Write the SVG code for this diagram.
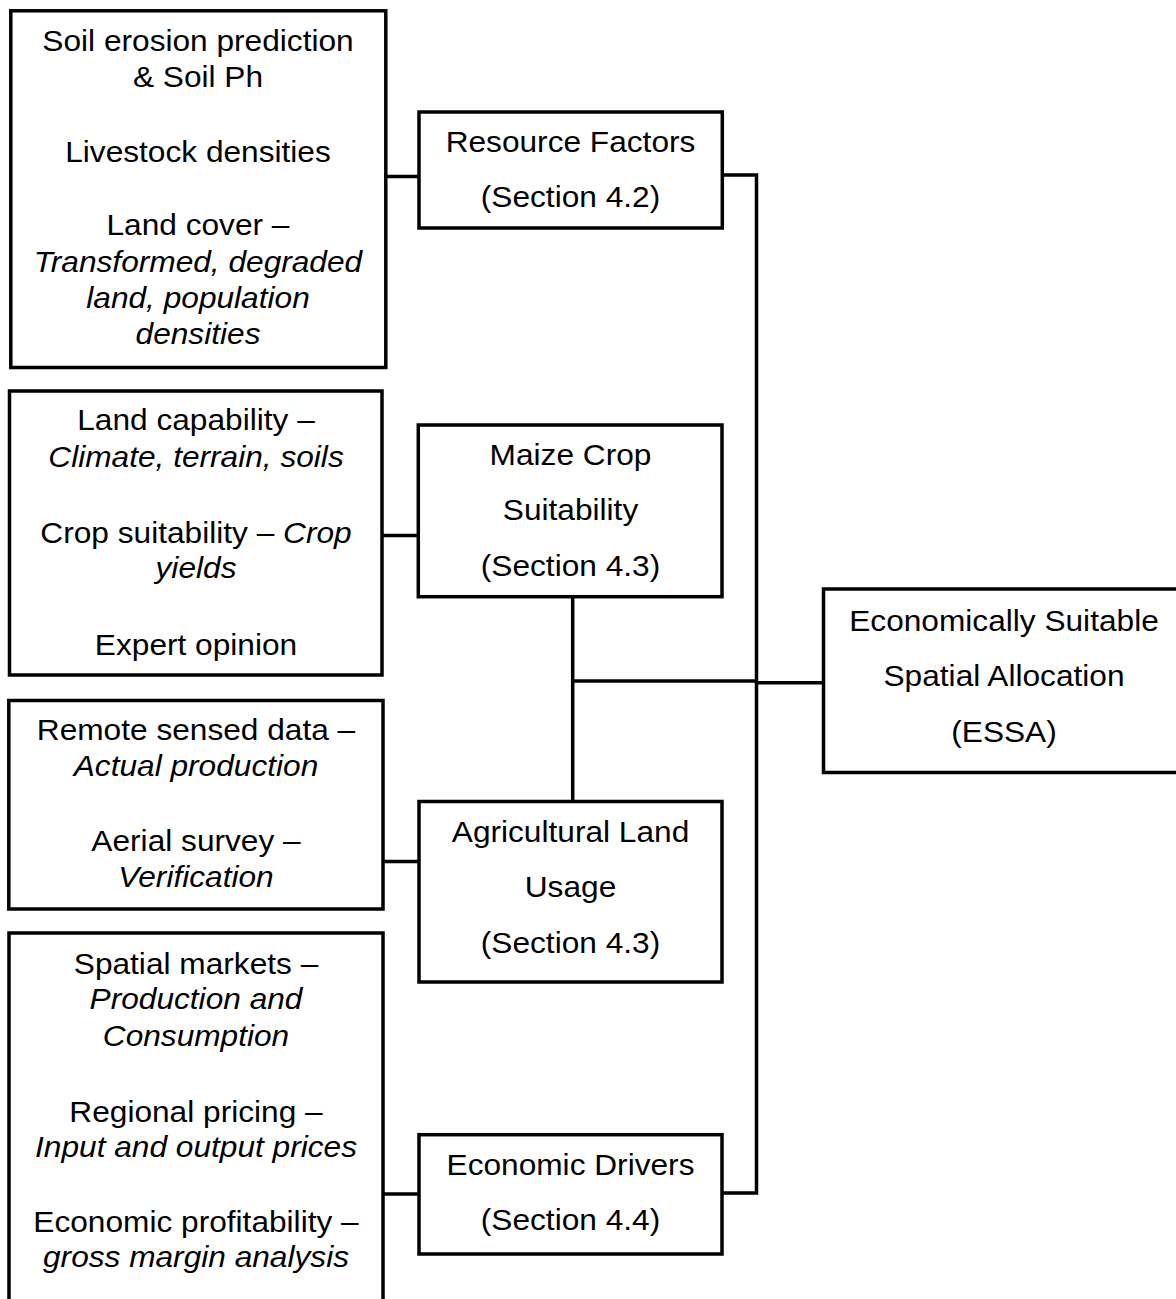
<svg xmlns="http://www.w3.org/2000/svg" width="1176" height="1299" viewBox="0 0 1176 1299">
<style>
.box{fill:#fff;stroke:#000;stroke-width:3.5}
.c{fill:none;stroke:#000;stroke-width:3.5}
text{font-family:"Liberation Sans",Arial,sans-serif;font-size:30px;fill:#000;text-anchor:middle}
.i{font-style:italic}
</style>
<rect width="1176" height="1299" fill="#fff"/>
<g id="connectors">
<path class="c" d="M386,176.5H419"/>
<path class="c" d="M382,535.5H418"/>
<path class="c" d="M383,861.5H419"/>
<path class="c" d="M383,1194H419"/>
<path class="c" d="M722,175H756.5V1193H722"/>
<path class="c" d="M572.7,597V801"/>
<path class="c" d="M572.7,681H756.5"/>
<path class="c" d="M756.5,682.7H823"/>
</g>
<g id="inputs-resource">
<rect class="box" x="10.8" y="10.8" width="375" height="356.7"/>
<g transform="translate(198,0) scale(1.055,1)">
<text x="0" y="51">Soil erosion prediction</text>
<text x="0" y="87">&amp; Soil Ph</text>
<text x="0" y="162">Livestock densities</text>
<text x="0" y="235">Land cover –</text>
<text x="0" y="272" class="i">Transformed, degraded</text>
<text x="0" y="308" class="i">land, population</text>
<text x="0" y="344" class="i">densities</text>
</g>
</g>
<g id="inputs-suitability">
<rect class="box" x="9.5" y="391" width="372.5" height="284"/>
<g transform="translate(196,0) scale(1.055,1)">
<text x="0" y="430">Land capability –</text>
<text x="0" y="467" class="i">Climate, terrain, soils</text>
<text x="0" y="543">Crop suitability – <tspan class="i">Crop</tspan></text>
<text x="0" y="578" class="i">yields</text>
<text x="0" y="655">Expert opinion</text>
</g>
</g>
<g id="inputs-landuse">
<rect class="box" x="8.8" y="700.5" width="374.2" height="208.5"/>
<g transform="translate(196,0) scale(1.055,1)">
<text x="0" y="740">Remote sensed data –</text>
<text x="0" y="776" class="i">Actual production</text>
<text x="0" y="851">Aerial survey –</text>
<text x="0" y="887" class="i">Verification</text>
</g>
</g>
<g id="inputs-economic">
<rect class="box" x="9" y="933" width="374" height="380"/>
<g transform="translate(196,0) scale(1.055,1)">
<text x="0" y="974">Spatial markets –</text>
<text x="0" y="1009" class="i">Production and</text>
<text x="0" y="1046" class="i">Consumption</text>
<text x="0" y="1122">Regional pricing –</text>
<text x="0" y="1157" class="i">Input and output prices</text>
<text x="0" y="1232">Economic profitability –</text>
<text x="0" y="1267" class="i">gross margin analysis</text>
</g>
</g>
<g id="resource-factors">
<rect class="box" x="419" y="112" width="303.3" height="116"/>
<g transform="translate(570.5,0) scale(1.055,1)">
<text x="0" y="152">Resource Factors</text>
<text x="0" y="207">(Section 4.2)</text>
</g>
</g>
<g id="maize-suitability">
<rect class="box" x="418.3" y="425" width="303.7" height="171.7"/>
<g transform="translate(570.5,0) scale(1.055,1)">
<text x="0" y="465">Maize Crop</text>
<text x="0" y="520">Suitability</text>
<text x="0" y="576">(Section 4.3)</text>
</g>
</g>
<g id="agricultural-land-usage">
<rect class="box" x="419" y="801.5" width="303" height="180.5"/>
<g transform="translate(570.5,0) scale(1.055,1)">
<text x="0" y="842">Agricultural Land</text>
<text x="0" y="897">Usage</text>
<text x="0" y="953">(Section 4.3)</text>
</g>
</g>
<g id="economic-drivers">
<rect class="box" x="419" y="1134.7" width="303" height="119.3"/>
<g transform="translate(570.5,0) scale(1.055,1)">
<text x="0" y="1175">Economic Drivers</text>
<text x="0" y="1230">(Section 4.4)</text>
</g>
</g>
<g id="essa">
<rect class="box" x="823.5" y="589" width="360" height="183.5"/>
<g transform="translate(1004,0) scale(1.055,1)">
<text x="0" y="631">Economically Suitable</text>
<text x="0" y="686">Spatial Allocation</text>
<text x="0" y="742">(ESSA)</text>
</g>
</g>
</svg>
